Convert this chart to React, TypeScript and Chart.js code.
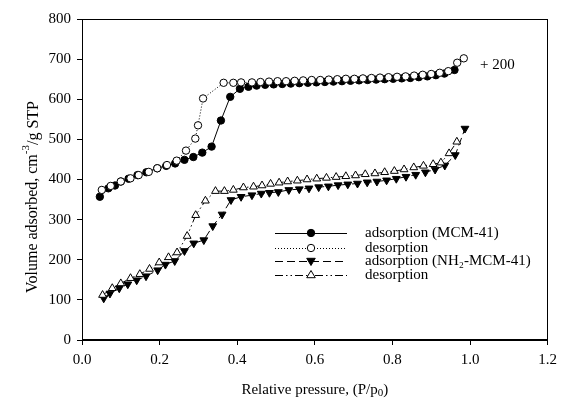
import React, { useEffect, useRef } from "react";
import { Chart, registerables } from "chart.js";

Chart.register(...registerables);

// MCM-41 adsorption (values shown +200)
const mcmAdsX = [0.046, 0.068, 0.085, 0.1, 0.12, 0.143, 0.166, 0.194, 0.217, 0.24, 0.264, 0.287, 0.31, 0.334, 0.358, 0.382, 0.407, 0.429, 0.45, 0.472, 0.494, 0.516, 0.538, 0.56, 0.582, 0.604, 0.626, 0.648, 0.67, 0.692, 0.714, 0.736, 0.758, 0.78, 0.802, 0.824, 0.846, 0.868, 0.89, 0.912, 0.934, 0.96];
const mcmAdsY = [357, 378, 385, 395, 402, 411, 418, 428, 434, 440, 449, 456, 467, 482, 547, 606, 626, 631, 634, 636, 637, 638, 639, 640, 641, 642, 643, 644, 645, 646, 647, 648, 649, 650, 651, 652, 653, 655, 657, 660, 664, 673];

// MCM-41 desorption
const mcmDesX = [0.051, 0.074, 0.1, 0.125, 0.146, 0.172, 0.194, 0.219, 0.244, 0.268, 0.292, 0.299, 0.312, 0.365, 0.39, 0.41, 0.438, 0.46, 0.482, 0.504, 0.526, 0.548, 0.57, 0.592, 0.614, 0.636, 0.658, 0.68, 0.702, 0.724, 0.746, 0.768, 0.79, 0.812, 0.834, 0.856, 0.878, 0.9, 0.922, 0.944, 0.967, 0.984];
const mcmDesY = [374, 384, 395, 403, 411, 419, 428, 436, 447, 472, 502, 535, 602, 641, 641, 642, 642, 643, 644, 645, 645, 646, 647, 648, 648, 649, 650, 651, 651, 652, 653, 654, 655, 656, 657, 659, 661, 663, 666, 670, 691, 702];

// NH2-MCM-41 adsorption
const nhAdsX = [0.056, 0.072, 0.096, 0.118, 0.141, 0.165, 0.195, 0.215, 0.239, 0.264, 0.288, 0.314, 0.337, 0.361, 0.384, 0.41, 0.438, 0.462, 0.483, 0.506, 0.533, 0.56, 0.585, 0.61, 0.635, 0.66, 0.685, 0.71, 0.735, 0.76, 0.785, 0.81, 0.835, 0.86, 0.885, 0.91, 0.935, 0.962, 0.987];
const nhAdsY = [104, 116, 129, 139, 149, 159, 174, 188, 197, 222, 241, 249, 284, 313, 349, 357, 361, 365, 367, 369, 374, 376, 378, 381, 383, 386, 388, 390, 393, 395, 398, 402, 407, 412, 418, 425, 435, 461, 527];

// NH2-MCM-41 desorption
const nhDesX = [0.053, 0.078, 0.1, 0.125, 0.149, 0.174, 0.199, 0.223, 0.245, 0.271, 0.293, 0.318, 0.344, 0.367, 0.39, 0.416, 0.442, 0.464, 0.486, 0.508, 0.53, 0.555, 0.58, 0.605, 0.63, 0.655, 0.68, 0.705, 0.73, 0.755, 0.78, 0.805, 0.83, 0.855, 0.88, 0.905, 0.925, 0.946, 0.966];
const nhDesY = [112, 129, 141, 154, 164, 177, 193, 206, 218, 259, 311, 347, 371, 371, 374, 380, 382, 385, 389, 392, 395, 397, 400, 402, 404, 406, 408, 410, 413, 415, 418, 421, 425, 430, 434, 438, 442, 465, 494];

const legendLabels = ["adsorption (MCM-41)", "desorption", "adsorption (NH₂-MCM-41)", "desorption"];
const annotationText = "+ 200";
const annotationX = 1.026;
const annotationY = 685;
const xTitle = "Relative pressure, (P/p";
const xTitleSub = "0";
const yTitleMain = "Volume adsorbed, cm";
const yTitleSup = "-3";
const yTitleEnd = "/g STP";

const FONT = '"Liberation Serif", "Times New Roman", serif';

const pts = (xs: number[], ys: number[]) => xs.map((x, i) => ({ x, y: ys[i] }));

const styles = [
  { dash: [] as number[], point: "circle", fill: "#000", rot: 0, r: 3.7 },
  { dash: [1, 2], point: "circle", fill: "#fff", rot: 0, r: 3.7 },
  { dash: [8, 4], point: "triangle", fill: "#000", rot: 180, r: 4.5 },
  { dash: [8, 3, 1.5, 3, 1.5, 3], point: "triangle", fill: "#fff", rot: 0, r: 4.5 },
];

function drawMarker(ctx: CanvasRenderingContext2D, s: any, x: number, y: number) {
  ctx.save();
  ctx.setLineDash([]);
  ctx.fillStyle = s.fill;
  ctx.strokeStyle = "#000";
  ctx.lineWidth = 1;
  ctx.beginPath();
  if (s.point === "circle") {
    ctx.arc(x, y, s.r, 0, Math.PI * 2);
  } else {
    const r = s.r;
    const dir = s.rot === 180 ? -1 : 1;
    ctx.moveTo(x, y - dir * r);
    ctx.lineTo(x - r * 0.95, y + dir * r * 0.6);
    ctx.lineTo(x + r * 0.95, y + dir * r * 0.6);
    ctx.closePath();
  }
  ctx.fill();
  ctx.stroke();
  ctx.restore();
}

const overlay = {
  id: "overlay",
  afterDraw(chart: any) {
    const { ctx, chartArea: a, scales } = chart;
    ctx.save();
    ctx.strokeStyle = "#000";
    ctx.lineWidth = 1;
    ctx.setLineDash([]);
    ctx.strokeRect(Math.round(a.left) + 0.5, Math.round(a.top) + 0.5, Math.round(a.right - a.left) - 1, Math.round(a.bottom - a.top) - 1);

    ctx.fillStyle = "#000";
    ctx.textBaseline = "middle";
    ctx.textAlign = "left";

    // annotation
    ctx.font = `15px ${FONT}`;
    ctx.fillText(annotationText, scales.x.getPixelForValue(annotationX), scales.y.getPixelForValue(annotationY));

    // legend
    const lx1 = a.left + 193;
    const lx2 = a.left + 265;
    const rows = [a.top + 214, a.top + 229, a.top + 242, a.top + 256];
    styles.forEach((s, i) => {
      const y = rows[i];
      ctx.save();
      ctx.setLineDash(s.dash);
      ctx.beginPath();
      ctx.moveTo(lx1, y + 0.5);
      ctx.lineTo(lx2, y + 0.5);
      ctx.stroke();
      ctx.restore();
      drawMarker(ctx, s, (lx1 + lx2) / 2, y);
      ctx.font = `15px ${FONT}`;
      ctx.fillText(legendLabels[i], a.left + 283, y);
    });

    // x title
    ctx.font = `15px ${FONT}`;
    const w1 = ctx.measureText(xTitle).width;
    ctx.font = `11px ${FONT}`;
    const w2 = ctx.measureText(xTitleSub).width;
    ctx.font = `15px ${FONT}`;
    const w3 = ctx.measureText(")").width;
    const tw = w1 + w2 + w3;
    const cx = (a.left + a.right) / 2;
    const ty = 390;
    let x0 = cx - tw / 2;
    ctx.fillText(xTitle, x0, ty);
    ctx.font = `11px ${FONT}`;
    ctx.fillText(xTitleSub, x0 + w1, ty + 3);
    ctx.font = `15px ${FONT}`;
    ctx.fillText(")", x0 + w1 + w2, ty);

    // y title
    ctx.save();
    ctx.translate(33, 197);
    ctx.rotate(-Math.PI / 2);
    ctx.font = `16px ${FONT}`;
    const m1 = ctx.measureText(yTitleMain).width;
    ctx.font = `11px ${FONT}`;
    const m2 = ctx.measureText(yTitleSup).width;
    ctx.font = `16px ${FONT}`;
    const m3 = ctx.measureText(yTitleEnd).width;
    let sx = -(m1 + m2 + m3) / 2;
    ctx.fillText(yTitleMain, sx, 0);
    ctx.font = `11px ${FONT}`;
    ctx.fillText(yTitleSup, sx + m1, -7);
    ctx.font = `16px ${FONT}`;
    ctx.fillText(yTitleEnd, sx + m1 + m2, 1);
    ctx.restore();

    ctx.restore();
  },
};

export default function App() {
  const ref = useRef<HTMLCanvasElement>(null);
  useEffect(() => {
    document.body.style.margin = "0";
    Chart.defaults.font.family = FONT;
    Chart.defaults.color = "#000";
    const series = [pts(mcmAdsX, mcmAdsY), pts(mcmDesX, mcmDesY), pts(nhAdsX, nhAdsY), pts(nhDesX, nhDesY)];
    const order = [1, 0, 3, 2];
    const datasets = order.map((i) => {
      const s = styles[i];
      return {
        label: legendLabels[i],
        data: series[i],
        showLine: true,
        borderColor: "#000",
        borderWidth: 1,
        borderDash: s.dash,
        pointStyle: s.point,
        pointRotation: s.rot,
        pointRadius: s.r,
        pointBackgroundColor: s.fill,
        pointBorderColor: "#000",
        pointBorderWidth: 1,
        fill: false,
        tension: 0,
      };
    });
    const chart = new Chart(ref.current!, {
      type: "scatter",
      data: { datasets },
      options: {
        animation: false,
        responsive: false,
        events: [],
        layout: { padding: { top: 19, right: 10, left: 0, bottom: 0 } },
        plugins: { legend: { display: false }, tooltip: { enabled: false } },
        scales: {
          x: {
            type: "linear",
            min: 0,
            max: 1.2,
            afterFit: (s: any) => { s.height = 58; },
            ticks: { stepSize: 0.2, padding: 6, font: { size: 15 }, color: "#000", callback: (v: any) => Number(v).toFixed(1), maxRotation: 0 },
            grid: { display: true, drawOnChartArea: false, drawTicks: true, tickLength: 5, color: "#000" },
            border: { display: true, color: "#000" },
          },
          y: {
            type: "linear",
            min: 0,
            max: 800,
            afterFit: (s: any) => { s.width = 82; },
            ticks: { stepSize: 100, padding: 6, font: { size: 15 }, color: "#000" },
            grid: { display: true, drawOnChartArea: false, drawTicks: true, tickLength: 5, color: "#000" },
            border: { display: true, color: "#000" },
          },
        },
      },
      plugins: [overlay],
    });
    return () => chart.destroy();
  }, []);
  return (
    <div style={{ position: "fixed", left: 0, top: 0, width: 563, height: 398, background: "#fff" }}>
      <canvas ref={ref} width={563} height={398} style={{ width: 563, height: 398 }} />
    </div>
  );
}
